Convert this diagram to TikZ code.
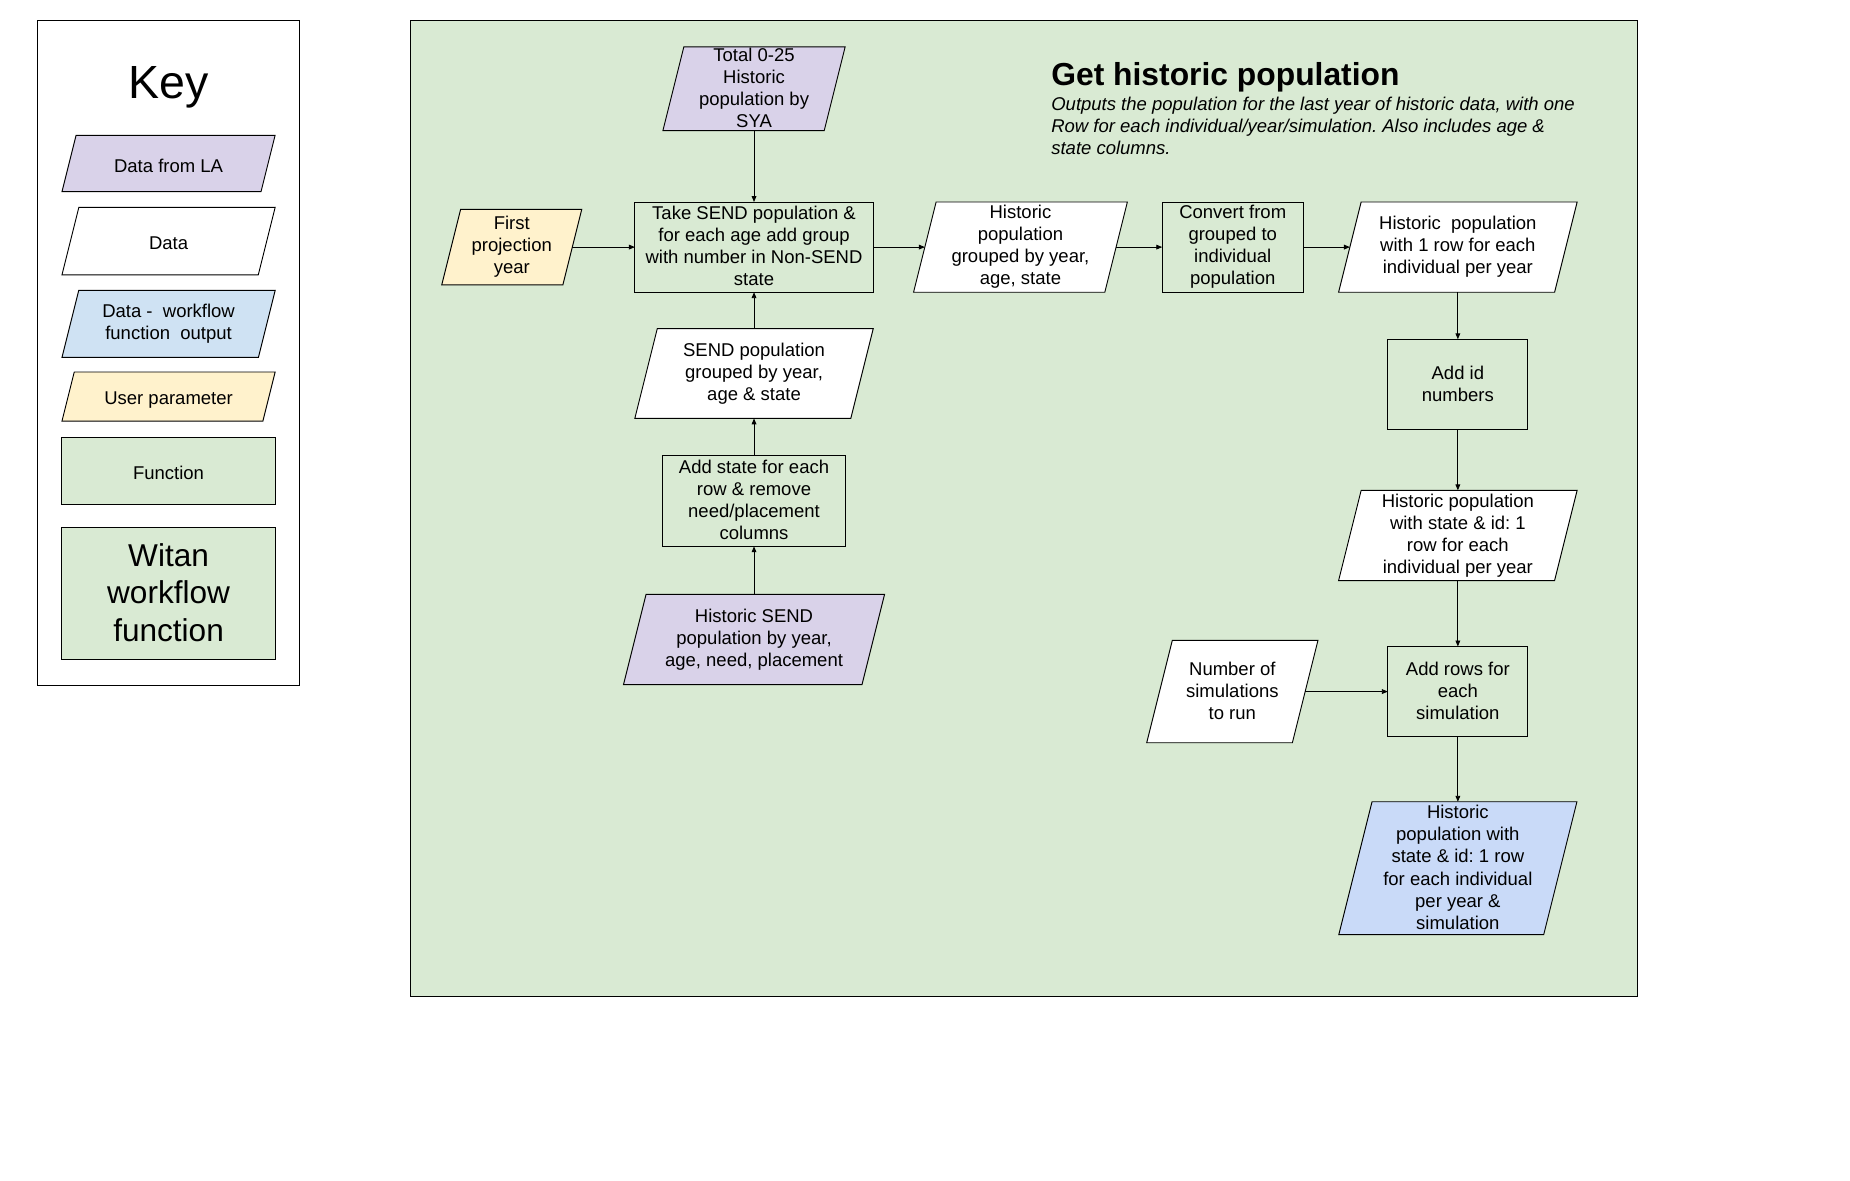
\documentclass[tikz,border=0pt]{standalone}
\usepackage{fontspec}
\setmainfont{Liberation Sans}
\usetikzlibrary{arrows.meta}
\frenchspacing
\definecolor{fgreen}{HTML}{D9EAD3}
\definecolor{fpurple}{HTML}{D9D2E9}
\definecolor{fblue}{HTML}{CFE2F3}
\definecolor{fblueout}{HTML}{C9DAF8}
\definecolor{fyellow}{HTML}{FFF2CC}
\newcommand\nodefont{\fontsize{15.7}{18.7}\selectfont}
\newcommand\topstrut{\rule{0pt}{1.06em}}
\newcommand\botstrut{\rule[-0.1em]{0pt}{0.1em}}
% name, cx, cy, mid-width, height, fill, text
\newcommand\parnode[7]{%
  \pgfmathsetmacro\pslant{0.125*#5}%
  \path[shapeline, fill=#6] ({#2-#4/2-\pslant},{#3+#5/2}) -- ({#2+#4/2-\pslant},{#3+#5/2}) -- ({#2+#4/2+\pslant},{#3-#5/2}) -- ({#2-#4/2+\pslant},{#3-#5/2}) -- cycle;
  \node[txt, minimum width=#4, minimum height=#5] (#1) at (#2,#3) {#7};
}
\begin{document}
\begin{tikzpicture}[x=1pt,y=-1pt,
  txt/.style={font=\nodefont, align=center, inner sep=0pt, outer sep=0pt,
    execute at begin node=\topstrut, execute at end node=\botstrut},
  fnbox/.style={txt, draw=black, line width=0.8pt, fill=fgreen, rectangle},
  shapeline/.style={draw=black, line width=0.8pt},
  panelbox/.style={draw=black, line width=0.8pt, anchor=north west, inner sep=0pt, outer sep=0pt},
  conn/.style={draw=black, line width=0.7pt, -{Triangle[length=5pt,width=4pt]}},
  desc/.style={font=\nodefont\itshape, anchor=base west, inner sep=0pt},
]
\useasboundingbox (0,0) rectangle (1570,1002);
\fill[white] (0,0) rectangle (1570,1002);

% ---------- Key ----------
\node[panelbox, fill=white, minimum width=222, minimum height=564.5] (keypanel) at (32,17.5) {};
\node[font=\fontsize{39.5}{47}\selectfont, anchor=base, inner sep=0pt] (keytitle) at (143,83.7) {Key};
\parnode{keyla}{143.05}{138.7}{168.9}{47.8}{fpurple}{Data from LA}
\parnode{keydata}{143.05}{204.6}{166.6}{57.3}{white}{Data}
\parnode{keywf}{143.05}{274.9}{166.7}{56.8}{fblue}{Data -\ \ workflow\\function\ \ output}
\parnode{keyuser}{143.05}{336.5}{170.5}{41.6}{fyellow}{User parameter}
\node[fnbox, minimum width=181, minimum height=56.7] (keyfn) at (143.05,399.4) {Function};
\node[fnbox, minimum width=181, minimum height=112, font=\fontsize{26.8}{32}\selectfont] (keywitan) at (143.05,504) {Witan\\workflow\\function};

% ---------- Panel ----------
\node[panelbox, fill=fgreen, minimum width=1041.2, minimum height=828.5] (panel) at (348,17.5) {};
\node[font=\fontsize{27}{32}\selectfont\bfseries, anchor=base west, inner sep=0pt] (title) at (892,72.8) {Get historic population};
\node[desc] (desc1) at (892,94) {Outputs the population for the last year of historic data, with one};
\node[desc] (desc2) at (892,112.6) {Row for each individual/year/simulation. Also includes age \&};
\node[desc] (desc3) at (892,131.2) {state columns.};

% left column
\parnode{total}{639.9}{75.3}{136.9}{71.1}{fpurple}{Total 0-25\\Historic\\population by\\SYA}
\node[fnbox, minimum width=202.3, minimum height=76.6] (take) at (639.9,209.7) {Take SEND population \&\\for each age add group\\with number in Non-SEND\\state};
\parnode{first}{434.3}{209.7}{102.8}{64.1}{fyellow}{First\\projection\\year}
\parnode{sendpop}{639.9}{317}{183.3}{76.2}{white}{SEND population\\grouped by year,\\age \& state}
\node[fnbox, minimum width=154.7, minimum height=77.3] (addstate) at (639.9,425) {Add state for each\\row \& remove\\need/placement\\columns};
\parnode{histsend}{639.9}{542.7}{202.4}{76.6}{fpurple}{Historic SEND\\population by year,\\age, need, placement}

% top row
\parnode{histgrp}{866}{209.7}{162.3}{76.6}{white}{Historic\\population\\grouped by year,\\age, state}
\node[fnbox, minimum width=119.7, minimum height=76.6] (convert) at (1046.15,209.7) {Convert from\\grouped to\\individual\\population};
\parnode{histrow}{1237.2}{209.7}{183.3}{76.6}{white}{Historic\ \ population\\with 1 row for each\\individual per year}

% right column
\node[fnbox, minimum width=118.9, minimum height=76.6] (addid) at (1237.2,326.2) {Add id\\numbers};
\parnode{histstate}{1237.2}{454.4}{183.3}{76.6}{white}{Historic population\\with state \& id: 1\\row for each\\individual per year}
\node[fnbox, minimum width=118.9, minimum height=76.6] (addrows) at (1237.2,586.9) {Add rows for\\each\\simulation};
\parnode{numsims}{1045.8}{586.9}{123.6}{86.8}{white}{Number of\\simulations\\to run}
\parnode{final}{1237.2}{736.8}{173.9}{112.8}{fblueout}{Historic\\population with\\state \& id: 1 row\\for each individual\\per year \&\\simulation}

% connectors
\draw[conn] (total.south) -- (take.north);
\draw[conn] (first.east) -- (take.west);
\draw[conn] (sendpop.north) -- (take.south);
\draw[conn] (addstate.north) -- (sendpop.south);
\draw[conn] (histsend.north) -- (addstate.south);
\draw[conn] (take.east) -- (histgrp.west);
\draw[conn] (histgrp.east) -- (convert.west);
\draw[conn] (convert.east) -- (histrow.west);
\draw[conn] (histrow.south) -- (addid.north);
\draw[conn] (addid.south) -- (histstate.north);
\draw[conn] (histstate.south) -- (addrows.north);
\draw[conn] (numsims.east) -- (addrows.west);
\draw[conn] (addrows.south) -- (final.north);
\end{tikzpicture}
\end{document}
